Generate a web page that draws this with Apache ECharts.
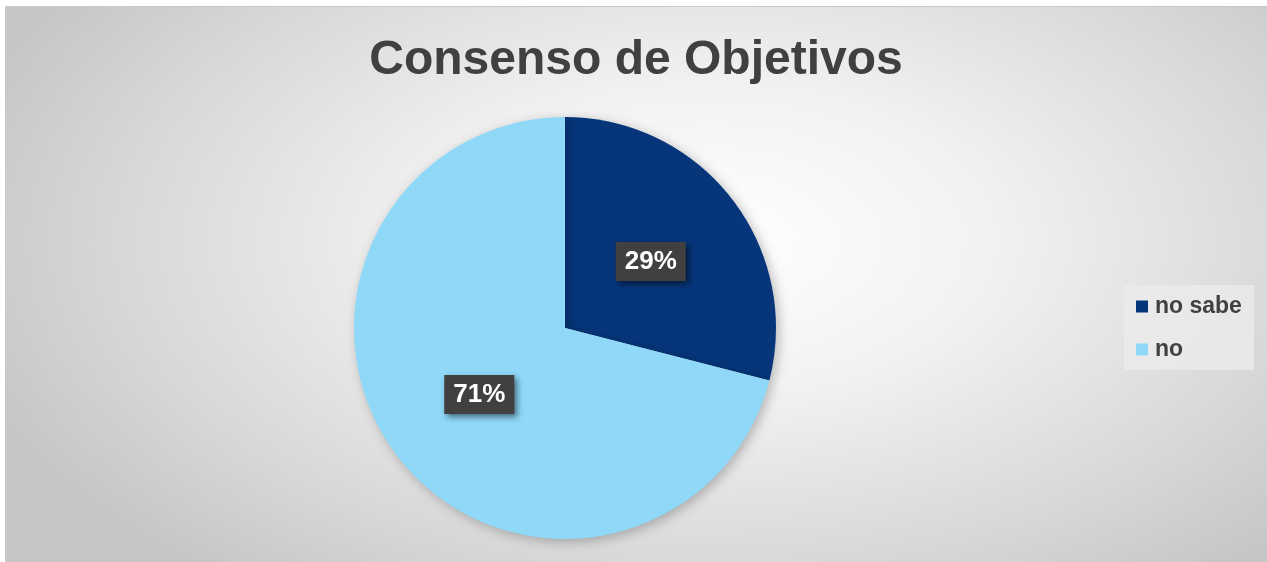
<!DOCTYPE html>
<html>
<head>
<meta charset="utf-8">
<script src="https://cdn.jsdelivr.net/npm/echarts@6/dist/echarts.min.js"></script>
<style>
  html, body { margin: 0; padding: 0; background: #fff; }
  #chart {
    position: absolute;
    left: 5px;
    top: 6px;
    width: 1262px;
    height: 556px;
    border-top: 1px solid #c8c8c8;
    background: radial-gradient(ellipse 62% 78% at 56% 42%, #ffffff 0%, #f2f2f2 35%, #d8d8d8 75%, #c6c6c6 100%);
  }
</style>
</head>
<body>
<div id="chart"></div>
<script>
const categories = ['no sabe', 'no']
const values = [29, 71]
const colors = ['#06357a', '#8fd8f8']

const chart = echarts.init(document.getElementById('chart'))

chart.setOption({
  backgroundColor: 'transparent',
  title: {
    text: 'Consenso de Objetivos',
    left: 'center',
    top: 25,
    textStyle: {
      fontFamily: 'Liberation Sans',
      fontSize: 48,
      fontWeight: 'bold',
      color: '#404040'
    }
  },
  legend: {
    orient: 'vertical',
    left: 1119,
    top: 278,
    padding: [10, 12, 9, 12],
    itemGap: 20,
    itemWidth: 12,
    itemHeight: 12,
    icon: 'rect',
    backgroundColor: 'rgba(235,235,235,0.8)',
    data: categories,
    textStyle: {
      fontFamily: 'Liberation Sans',
      fontSize: 23,
      fontWeight: 'bold',
      color: '#404040',
      padding: [0, 0, 0, 2]
    }
  },
  series: [{
    type: 'pie',
    center: [560, 321],
    radius: 211,
    startAngle: 90,
    clockwise: true,
    silent: true,
    itemStyle: {
      shadowBlur: 12,
      shadowColor: 'rgba(0,0,0,0.25)',
      shadowOffsetX: 3,
      shadowOffsetY: 3
    },
    label: {
      position: 'inside',
      formatter: '{c}%',
      fontFamily: 'Liberation Sans',
      fontSize: 26,
      fontWeight: 'bold',
      color: '#ffffff',
      backgroundColor: '#404040',
      padding: [7, 9, 6, 9],
      shadowBlur: 6,
      shadowColor: 'rgba(0,0,0,0.5)',
      shadowOffsetX: 3,
      shadowOffsetY: 3
    },
    labelLine: { show: false },
    data: categories.map((name, i) => ({
      name,
      value: values[i],
      itemStyle: { color: colors[i] }
    }))
  }]
})
</script>
</body>
</html>
